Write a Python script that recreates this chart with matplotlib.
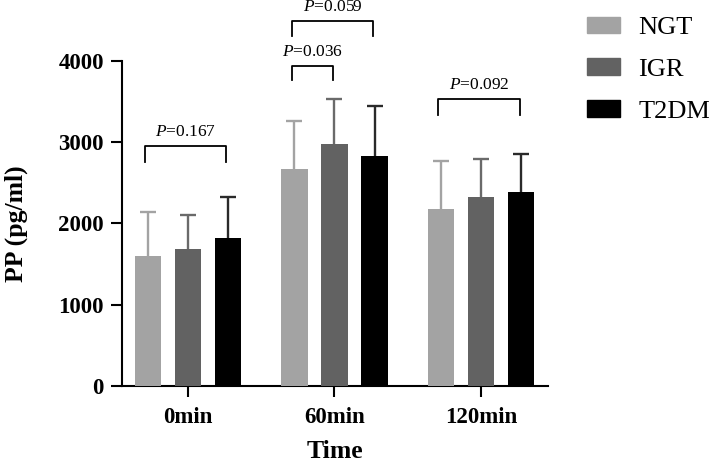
import numpy as np
import matplotlib
matplotlib.use('Agg')
import matplotlib.pyplot as plt
from matplotlib.patches import Patch

plt.rcParams['font.family'] = ['Liberation Serif', 'DejaVu Serif']
plt.rcParams['mathtext.fontset'] = 'custom'
plt.rcParams['mathtext.it'] = 'Liberation Serif:italic'
plt.rcParams['mathtext.rm'] = 'Liberation Serif'

# 数据
times = ['0min', '60min', '120min']
groups = ['NGT', 'IGR', 'T2DM']
colors = ['#a3a3a3', '#626262', '#000000']
err_colors = ['#a3a3a3', '#6a6a6a', '#2a2a2a']
means = {
    'NGT': [1600, 2670, 2180],
    'IGR': [1690, 2975, 2330],
    'T2DM': [1820, 2835, 2390],
}
err_top = {
    'NGT': [2140, 3265, 2765],
    'IGR': [2110, 3530, 2795],
    'T2DM': [2320, 3450, 2855],
}
# 显著性标注: (时间索引, 组1, 组2, 横线高度, 竖线底部, 文本)
brackets = [
    (0, 0, 2, 2955, 2755, '0.167'),
    (1, 0, 1, 3940, 3760, '0.036'),
    (1, 0, 2, 4495, 4310, '0.059'),
    (2, 0, 2, 3530, 3330, '0.092'),
]

fig = plt.figure(figsize=(7.09, 4.62), dpi=100)
ax = fig.add_axes([0.172, 0.1645, 0.601, 0.7035])

x = np.arange(len(times))
width = 0.181
offset = 0.273

for i, g in enumerate(groups):
    pos = x + (i - 1) * offset
    m = np.array(means[g])
    e = np.array(err_top[g]) - m
    ax.bar(pos, m, width=width, color=colors[i], label=g, zorder=3)
    _, caps, _ = ax.errorbar(pos, m, yerr=[np.zeros_like(e), e], fmt='none',
                             ecolor=err_colors[i], elinewidth=1.7, capsize=6,
                             capthick=1.7, zorder=2)
    caps[0].set_visible(False)  # 只保留上方误差线帽

for t, g1, g2, ytop, ybot, txt in brackets:
    x1 = t + (g1 - 1) * offset - 0.02
    x2 = t + (g2 - 1) * offset - 0.01
    ax.plot([x1, x1, x2, x2], [ybot, ytop, ytop, ybot], color='black',
            lw=1.3, clip_on=False)
    ax.text((x1 + x2) / 2, ytop + 70, r'$P$=' + txt, ha='center',
            va='bottom', fontsize=12.5, clip_on=False)

ax.set_xlim(-0.45, 2.457)
ax.set_ylim(0, 4000)
ax.set_yticks([0, 1000, 2000, 3000, 4000])
ax.set_xticks(x)
ax.set_xticklabels(times)
for s in ['top', 'right']:
    ax.spines[s].set_visible(False)
for s in ['left', 'bottom']:
    ax.spines[s].set_linewidth(1.5)
ax.tick_params(axis='both', width=1.5, length=8, labelsize=16.5, pad=5)
ax.tick_params(axis='x', pad=7)
for lab in ax.get_xticklabels() + ax.get_yticklabels():
    lab.set_fontweight('bold')

ax.set_ylabel('PP (pg/ml)', fontsize=18.5, fontweight='bold', labelpad=22)
ax.set_xlabel('Time', fontsize=18.5, fontweight='bold', labelpad=9)

handles = [Patch(color=c) for c in colors]
fig.legend(handles, groups, loc='upper left', bbox_to_anchor=(0.828, 0.964),
           frameon=False, fontsize=19, handlelength=1.25, handleheight=0.6,
           labelspacing=0.72, handletextpad=0.7, borderpad=0, borderaxespad=0)

fig.savefig('out.png', dpi=100)
